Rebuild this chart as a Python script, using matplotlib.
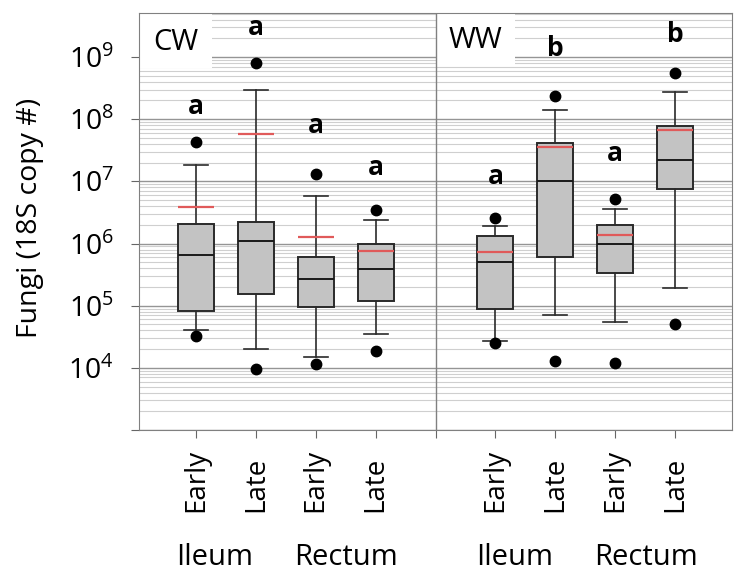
import numpy as np
import matplotlib.pyplot as plt
from matplotlib import ticker, transforms
from matplotlib.patches import Rectangle

plt.rcParams['font.family'] = ['Open Sans', 'DejaVu Sans']
plt.rcParams['mathtext.fontset'] = 'custom'
plt.rcParams['mathtext.rm'] = 'Open Sans'

# boxes in order: CW Ileum Early/Late, CW Rectum Early/Late, WW Ileum Early/Late, WW Rectum Early/Late
groups = ["CW", "WW"]
tissues = ["Ileum", "Rectum", "Ileum", "Rectum"]
times = ["Early", "Late", "Early", "Late", "Early", "Late", "Early", "Late"]

whislo = [4.1e4, 2.0e4, 1.5e4, 3.5e4, 2.7e4, 7.2e4, 5.5e4, 1.9e5]
q1 = [8.3e4, 1.55e5, 9.6e4, 1.17e5, 8.7e4, 6.0e5, 3.3e5, 7.6e6]
med = [6.6e5, 1.1e6, 2.7e5, 3.9e5, 5.0e5, 1.0e7, 9.8e5, 2.2e7]
q3 = [2.04e6, 2.2e6, 6.0e5, 1.0e6, 1.3e6, 4.1e7, 1.95e6, 7.8e7]
whishi = [1.8e7, 3.0e8, 5.9e6, 2.4e6, 1.9e6, 1.43e8, 3.6e6, 2.7e8]
mean = [3.9e6, 5.8e7, 1.26e6, 7.5e5, 7.4e5, 3.6e7, 1.35e6, 6.8e7]
out_hi = [4.3e7, 8.1e8, 1.3e7, 3.5e6, 2.6e6, 2.4e8, 5.2e6, 5.6e8]
out_lo = [3.2e4, 9.5e3, 1.17e4, 1.9e4, 2.5e4, 1.28e4, 1.2e4, 5.1e4]

letters = ["a", "a", "a", "a", "a", "b", "a", "b"]
letter_y = [1.23e8, 2.24e9, 6.0e7, 1.26e7, 9.1e6, 1.02e9, 2.1e7, 1.74e9]

positions = [1, 2, 3, 4, 6, 7, 8, 9]
tissue_x = [1.32, 3.5, 6.32, 8.52]

stats = []
for i in range(len(positions)):
    stats.append(dict(whislo=whislo[i], q1=q1[i], med=med[i], q3=q3[i],
                      whishi=whishi[i], mean=mean[i],
                      fliers=[out_lo[i], out_hi[i]]))

fig = plt.figure(figsize=(7.41, 5.84), dpi=100)
ax = fig.add_axes([0.1876, 0.2637, 0.8003, 0.714])

ax.bxp(stats, positions=positions, widths=0.6, capwidths=0.4,
       showmeans=True, meanline=True, patch_artist=True,
       boxprops=dict(facecolor='#c3c3c3', edgecolor='#2a2a2a', linewidth=1.4),
       medianprops=dict(color='#1a1a1a', linewidth=1.4),
       whiskerprops=dict(color='#2a2a2a', linewidth=1.2),
       capprops=dict(color='#2a2a2a', linewidth=1.2),
       meanprops=dict(color='#e05a5a', linewidth=1.6, linestyle='-'),
       flierprops=dict(marker='o', markerfacecolor='black', markeredgecolor='black',
                       markersize=7.5))

ax.set_yscale('log')
ax.set_ylim(1e3, 5.1e9)
ax.set_xlim(0.05, 9.95)

ax.yaxis.set_major_locator(ticker.FixedLocator([1e3, 1e4, 1e5, 1e6, 1e7, 1e8, 1e9]))
ax.yaxis.set_major_formatter(ticker.FuncFormatter(
    lambda v, p: '' if v < 5e3 else r'$10^{%d}$' % round(np.log10(v))))
ax.yaxis.set_minor_locator(ticker.LogLocator(base=10, subs=np.arange(2, 10), numticks=20))
ax.yaxis.set_minor_formatter(ticker.NullFormatter())
ax.tick_params(axis='y', which='major', labelsize=20.5, length=6, color='#666666', pad=12)
ax.tick_params(axis='y', which='minor', length=0)
ax.set_axisbelow(True)
ax.yaxis.grid(True, which='major', color='#959595', linewidth=1.0)
ax.yaxis.grid(True, which='minor', color='#cfcfcf', linewidth=0.8)

ax.set_xticks([1, 2, 3, 4, 5, 6, 7, 8, 9])
ax.set_xticklabels([''] * 9)
ax.tick_params(axis='x', length=6, color='#666666')
for s in ax.spines.values():
    s.set_color('#808080')
ax.axvline(5, color='#808080', linewidth=1)

# white label boxes
ax.add_patch(Rectangle((0, 0.868), 0.123, 0.132, transform=ax.transAxes,
                       facecolor='white', edgecolor='none', zorder=1.5))
ax.add_patch(Rectangle((0.5, 0.875), 0.134, 0.125, transform=ax.transAxes,
                       facecolor='white', edgecolor='none', zorder=1.5))
ax.text(0.0625, 0.93, groups[0], transform=ax.transAxes, fontsize=21,
        ha='center', va='center', zorder=3)
ax.text(0.567, 0.935, groups[1], transform=ax.transAxes, fontsize=21,
        ha='center', va='center', zorder=3)

for x, t, y in zip(positions, letters, letter_y):
    ax.text(x, y, t, ha='center', va='baseline', fontsize=19, fontweight='bold')

trans = transforms.blended_transform_factory(ax.transData, fig.transFigure)
for x, t in zip(positions, times):
    ax.text(x, 0.1233, t, transform=trans, rotation=90, ha='center', va='bottom',
            fontsize=20)
for x, t in zip(tissue_x, tissues):
    ax.text(x, 0.045, t, transform=trans, ha='center', va='center', fontsize=21)

fig.text(0.04, 0.627, 'Fungi (18S copy #)', rotation=90, ha='center', va='center',
         fontsize=20.5)

fig.savefig('out.png', dpi=100)
